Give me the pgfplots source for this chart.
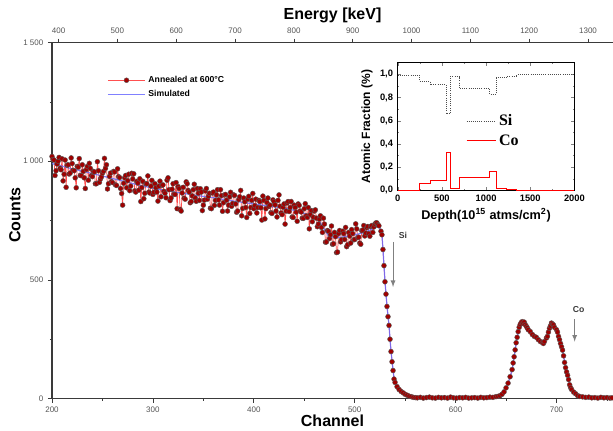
\documentclass[border=0pt]{standalone}
\usepackage{fontspec}
\setmainfont{Liberation Sans}
\newfontfamily\timesf{Liberation Serif}
\usepackage{pgfplots}
\pgfplotsset{compat=1.18}
\definecolor{spine}{HTML}{3A3A3A}
\definecolor{ticktxt}{HTML}{555555}
\definecolor{expred}{HTML}{FF5050}
\definecolor{markred}{HTML}{A00000}
\definecolor{simblue}{HTML}{6A6AFF}

\pgfplotstableread{
ch cnt
200 1020
201 1007
202 1005
203 940
204 960
205 988
206 1000
207 1016
208 970
209 964
210 1010
211 917
212 945
213 1005
214 890
215 983
216 985
217 946
218 950
219 1014
220 990
221 962
222 960
223 930
224 888
225 978
226 975
227 1011
228 940
229 939
230 985
231 957
232 930
233 885
234 965
235 978
236 920
237 991
238 970
239 939
240 935
241 957
242 955
243 905
244 905
245 998
246 960
247 911
248 925
249 934
250 950
251 957
252 1012
253 970
254 985
255 883
256 905
257 936
258 950
259 914
260 910
261 957
262 955
263 900
264 898
265 968
266 935
267 931
268 885
269 864
270 815
271 907
272 930
273 940
274 888
275 918
276 945
277 876
278 895
279 949
280 925
281 947
282 875
283 870
284 915
285 908
286 878
287 926
288 830
289 889
290 915
291 842
292 865
293 905
294 905
295 938
296 870
297 866
298 895
299 919
300 860
301 869
302 905
303 888
304 870
305 832
306 895
307 916
308 850
309 899
310 900
311 873
312 865
313 846
314 920
315 930
316 880
317 834
318 845
319 882
320 905
321 861
322 860
323 910
324 800
325 893
326 885
327 797
328 790
329 866
330 890
331 844
332 840
333 913
334 905
335 877
336 870
337 825
338 830
339 854
340 880
341 903
342 845
343 831
344 885
345 865
346 835
347 884
348 870
349 792
350 815
351 836
352 875
353 885
354 840
355 853
356 865
357 802
358 800
359 866
360 870
361 814
362 835
363 858
364 880
365 837
366 815
367 880
368 855
369 789
370 825
371 858
372 860
373 836
374 790
375 815
376 850
377 869
378 810
379 822
380 858
381 856
382 820
383 785
384 790
385 838
386 850
387 877
388 770
389 801
390 845
391 829
392 805
393 763
394 840
395 852
396 780
397 805
398 835
399 864
400 800
401 813
402 840
403 782
404 805
405 835
406 830
407 804
408 752
409 853
410 835
411 757
412 800
413 826
414 845
415 809
416 815
417 783
418 780
419 837
420 830
421 816
422 790
423 765
424 835
425 858
426 810
427 782
428 775
429 806
430 820
431 735
432 790
433 824
434 830
435 788
436 805
437 830
438 765
439 763
440 815
441 805
442 785
443 747
444 820
445 814
446 790
447 786
448 760
449 759
450 800
451 821
452 770
453 763
454 805
455 715
456 775
457 792
458 745
459 764
460 790
461 795
462 760
463 724
464 735
465 756
466 770
467 721
468 700
469 760
470 735
471 659
472 660
473 708
474 705
475 674
476 690
477 727
478 650
479 652
480 700
481 682
482 615
483 617
484 695
485 708
486 660
487 669
488 705
489 695
490 670
491 721
492 640
493 648
494 700
495 685
496 655
497 712
498 695
499 669
500 670
501 736
502 715
503 678
504 680
505 655
506 650
507 707
508 710
509 729
510 685
511 697
512 720
513 725
514 695
515 684
516 725
517 729
518 700
519 723
520 735
521 740
522 740
523 732
524 728
526 705
527 690
528 628
529 560
530 492
531 440
532 388
533 345
534 308
535 250
536 198
537 155
538 118
539 82
540 68
542 50
544 38
546 30
548 24
550 18
552 14
554 10
556 8
558 5
560 4
562 3
565 5
568 2
571 4
574 6
577 3
580 2
583 5
586 3
589 4
592 2
595 6
598 3
601 2
604 4
607 3
610 5
613 2
616 3
619 4
622 2
625 5
628 3
631 4
634 6
637 5
640 8
642 9
644 12
646 18
648 28
650 45
652 65
654 92
656 122
657 150
658 176
659 205
660 235
661 258
662 282
663 300
664 312
665 320
666 324
667 316
668 322
669 312
670 305
671 298
672 290
674 282
676 270
678 262
680 258
682 248
684 240
686 236
687 232
688 240
690 255
691 262
692 280
693 296
694 306
695 318
696 314
697 310
698 300
700 290
701 280
702 262
703 248
704 232
705 218
706 204
707 180
708 152
709 130
710 112
711 98
712 80
713 58
714 46
715 38
717 27
719 20
721 12
723 9
726 7
729 5
732 6
735 3
738 4
741 2
744 5
747 3
750 4
753 2
755 3
}\expdata

\pgfplotstableread{
ch cnt
200 990
220 968
240 948
260 927
280 906
300 886
320 871
340 858
360 846
380 832
400 820
420 808
434 800
450 780
460 764
465 748
470 712
474 685
480 678
490 681
500 690
510 700
516 712
520 720
523 725
525 718
527 690
528 630
530 495
532 390
534 310
535 250
536 200
538 122
539 85
540 68
542 50
547 28
552 15
558 6
565 2
640 2
645 6
648 20
652 62
656 120
658 175
660 232
662 280
664 305
666 315
668 316
670 306
672 292
676 272
680 258
684 245
687 238
690 252
692 275
694 300
696 312
698 306
700 292
703 252
706 205
708 155
711 100
713 60
717 28
722 12
730 5
755 3
}\simdata

\begin{document}
\begin{tikzpicture}
\useasboundingbox (-39pt,-23.6pt) rectangle (420.75pt,298.9pt);
% main spectrum
\begin{axis}[
  at={(0pt,0pt)}, anchor=south west, scale only axis,
  width=420.75pt, height=267pt,
  xmin=200, xmax=756, ymin=0, ymax=1500,
  axis x line*=bottom, axis y line*=left,
  axis line style={spine, line width=1.3pt},
  tick align=outside,
  xtick={200,300,...,700}, minor xtick={250,350,...,750},
  ytick={0,500,1000,1500}, yticklabels={0,500,1 000,1 500},
  minor ytick={250,750,1250},
  tick style={spine, line width=0.5pt},
  major tick length=3pt, minor tick length=1.5pt,
  ticklabel style={font=\fontsize{6}{6}\selectfont, text=ticktxt},
  /pgf/number format/assume math mode=true,
  xlabel={Channel}, ylabel={Counts},
  label style={font=\bfseries\fontsize{12}{12}\selectfont},
  xlabel style={at={(axis description cs:0.5,-0.063)}, anchor=center},
  ylabel style={at={(axis description cs:-0.066,0.515)}, anchor=center},
  legend style={at={(axis description cs:0.098,0.874)}, anchor=west,
    draw=none, fill=none, font=\bfseries\fontsize{6.5}{6.5}\selectfont,
    row sep=0.5pt, inner sep=0pt},
  legend cell align=left,
  legend image code/.code={\draw[mark repeat=2,mark phase=2,#1]
    plot coordinates {(0pt,0pt) (14pt,0pt) (28pt,0pt)};},
]
\addplot[expred, line width=0.55pt, mark=*, mark size=1.85pt,
  mark options={solid, fill=markred, draw=black!65, line width=0.3pt}]
  table[x=ch, y=cnt] {\expdata};
\addlegendentry{Annealed at 600°C}
\addplot[simblue, line width=0.9pt, opacity=0.85] table[x=ch, y=cnt] {\simdata};
\addlegendentry{Simulated}
\draw[-latex, gray, line width=0.7pt] (axis cs:538,660) -- (axis cs:538,470);
\node[font=\bfseries\fontsize{6.5}{6.5}\selectfont, text=spine, anchor=west] at (axis cs:539,688) {Si};
\draw[-latex, gray, line width=0.7pt] (axis cs:718,335) -- (axis cs:718,240);
\node[font=\bfseries\fontsize{6.5}{6.5}\selectfont, text=spine] at (axis cs:722,375) {Co};
\end{axis}
% energy scale on top
\begin{axis}[
  at={(0pt,0pt)}, anchor=south west, scale only axis,
  width=420.75pt, height=267pt,
  xmin=388.8, xmax=1342.5, ymin=0, ymax=1,
  axis x line*=top, axis y line=none,
  axis line style={spine, line width=1.3pt},
  tick align=outside,
  xtick={400,500,...,1300},
  tick style={spine, line width=0.5pt}, major tick length=3pt,
  ticklabel style={font=\fontsize{6}{6}\selectfont, text=ticktxt},
  /pgf/number format/assume math mode=true,
  /pgf/number format/1000 sep={},
  xlabel={Energy [keV]},
  xlabel style={font=\bfseries\fontsize{12}{12}\selectfont,
    at={(axis description cs:0.5,1.0756)}, anchor=center},
]
\end{axis}
% inset depth profile
\begin{axis}[
  at={(259.3pt,156.15pt)}, anchor=south west, scale only axis,
  width=132.5pt, height=95.7pt,
  xmin=0, xmax=2000, ymin=0, ymax=1.1,
  xtick={0,500,...,2000}, ytick={0,0.2,0.4,0.6,0.8,1.0},
  minor x tick num=1, minor y tick num=1,
  tick align=inside, axis line style={line width=0.6pt},
  major tick length=2.5pt, minor tick length=1.3pt,
  ticklabel style={font=\bfseries\fontsize{7}{7}\selectfont},
  /pgf/number format/assume math mode=true,
  yticklabel style={/pgf/number format/.cd, fixed, fixed zerofill, precision=1, use comma},
  xticklabel style={/pgf/number format/.cd, fixed, precision=0, 1000 sep={}},
  xlabel={Depth(10\textsuperscript{15} atms/cm\textsuperscript{2})},
  ylabel={Atomic Fraction (\%)},
  xlabel style={font=\bfseries\fontsize{9.5}{9.5}\selectfont,
    at={(axis description cs:0.5,-0.193)}, anchor=center},
  ylabel style={font=\bfseries\fontsize{9}{9}\selectfont,
    at={(axis description cs:-0.174,0.5)}, anchor=center},
  legend style={at={(axis description cs:0.385,0.465)}, anchor=west,
    draw=none, fill=none, font=\timesf\bfseries\fontsize{12}{12}\selectfont,
    row sep=1pt, inner sep=0pt},
  legend cell align=left,
  legend image code/.code={\draw[#1] (0pt,0pt) -- (22pt,0pt);},
]
\addplot[const plot, black!70, densely dotted, line width=0.6pt] coordinates {
  (0,0.99) (245,0.94) (366,0.91) (547,0.66) (592,0.98) (698,0.88)
  (1038,0.83) (1113,0.97) (1230,0.98) (1347,1.0) (2000,1.0)};
\addlegendentry{Si}
\addplot[const plot, red, line width=0.8pt] coordinates {
  (0,0) (245,0.06) (366,0.085) (547,0.33) (592,0.015) (698,0.11)
  (1038,0.16) (1113,0.015) (1230,0.005) (1347,0) (2000,0)};
\addlegendentry{Co}
\end{axis}
\end{tikzpicture}
\end{document}
